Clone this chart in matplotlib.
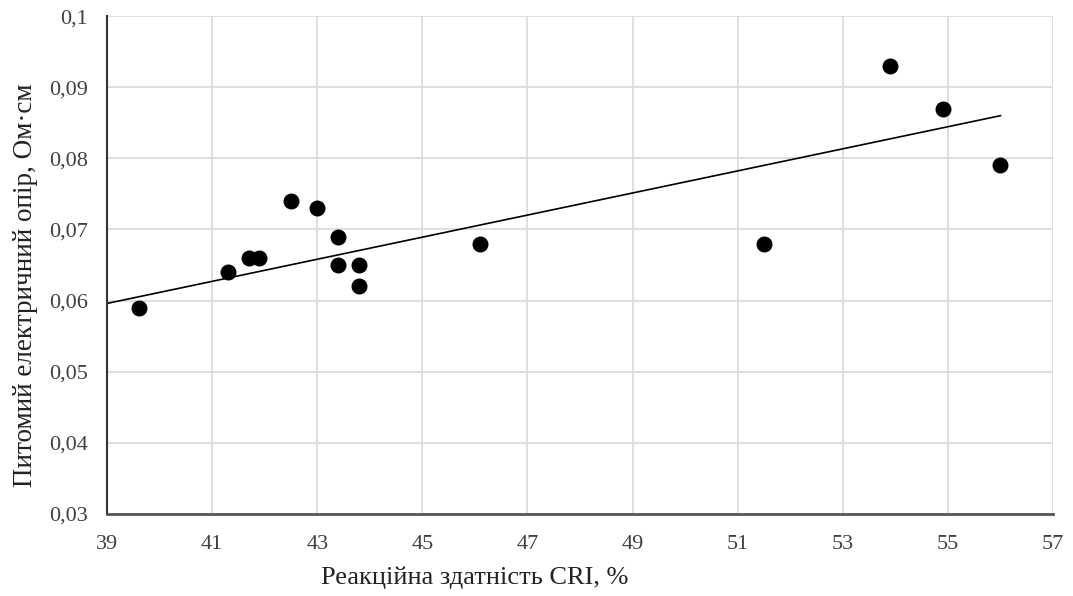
import numpy as np
import matplotlib.pyplot as plt

# дані з рисунка
cri = [39.6, 41.3, 41.7, 41.9, 42.5, 43.0, 43.4, 43.4, 43.8, 43.8, 46.1, 51.5, 53.9, 54.9, 56.0]
rho = [0.059, 0.064, 0.066, 0.066, 0.074, 0.073, 0.069, 0.065, 0.065, 0.062, 0.068, 0.068, 0.093, 0.087, 0.079]
# лінія тренду (кінці)
trend_x = [39.0, 56.0]
trend_y = [0.0596, 0.0860]
x_ticks = [39, 41, 43, 45, 47, 49, 51, 53, 55, 57]
y_ticks = [0.03, 0.04, 0.05, 0.06, 0.07, 0.08, 0.09, 0.1]

plt.rcParams['font.family'] = ['Liberation Serif', 'DejaVu Serif']

fig = plt.figure(figsize=(10.73, 5.96), dpi=100)
ax = fig.add_axes([0.0997, 0.1376, 0.8817, 0.8354])

ax.scatter(cri, rho, s=110, color='black', zorder=3)
ax.plot(trend_x, trend_y, color='black', lw=1.2, zorder=2)

ax.set_xlim(39, 57)
ax.set_ylim(0.03, 0.1)
ax.set_xticks(x_ticks)
ax.set_yticks(y_ticks)
ax.set_xticklabels([str(t) for t in x_ticks])
ax.set_yticklabels([('%g' % t).replace('.', ',') for t in y_ticks])
ax.tick_params(length=0, labelsize=16, colors='#404040')
ax.tick_params(axis='x', pad=15)
ax.tick_params(axis='y', pad=14)

ax.grid(True, color='#d9d9d9', lw=1.2)
ax.set_axisbelow(True)
for s in ['top', 'right']:
    ax.spines[s].set_visible(False)
ax.spines['left'].set_color('#333333')
ax.spines['bottom'].set_color('#555555')
ax.spines['left'].set_linewidth(1.5)
ax.spines['bottom'].set_linewidth(2)

fig.text(475 / 1073, 1 - 578 / 596, 'Реакційна здатність CRI, %', fontsize=19,
         ha='center', va='center', color='#222222')
fig.text(26 / 1073, 1 - 285 / 596, 'Питомий електричний опір, Ом·см', fontsize=19.5,
         ha='center', va='center', rotation=90, color='#222222')

fig.savefig('out.png', dpi=100)
